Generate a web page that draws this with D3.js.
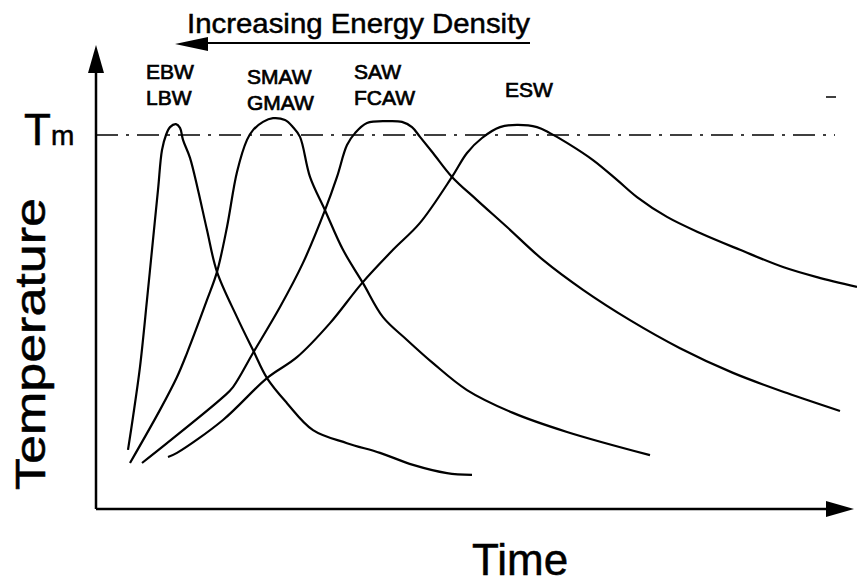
<!DOCTYPE html>
<html>
<head>
<meta charset="utf-8">
<script src="https://cdn.jsdelivr.net/npm/d3@7"></script>
<style>
body { margin: 0; background: #fff; }
text { font-family: "Liberation Sans", Arial, sans-serif; fill: #000; stroke: #000; stroke-width: 0.5px; }
</style>
</head>
<body>
<div id="chart"></div>
<script>

WIDTH = 857;
HEIGHT = 583;

// time in arbitrary units, temperature as % of the melting point Tm

var ebw_time = [3.2, 3.7, 4.4, 5.1, 5.6, 6.2, 6.6, 7.0, 7.4, 8.0, 8.4, 8.7, 9.4, 10.2, 11.1, 12.1, 14.1, 15.7, 17.1, 19.1, 21.7, 25.1, 28.4, 31.7, 35.1, 37.6];
var ebw_temp = [15.8, 24.6, 38.0, 55.9, 69.3, 85.3, 96.0, 100.0, 102.1, 102.9, 101.9, 98.7, 93.9, 85.3, 74.6, 63.4, 51.3, 42.5, 35.0, 28.3, 21.1, 17.6, 15.0, 11.8, 9.6, 9.1];

var smaw_time = [3.4, 6.4, 8.1, 9.1, 11.1, 12.1, 13.1, 14.1, 15.1, 15.7, 16.7, 17.7, 18.9, 19.7, 20.4, 21.4, 22.9, 24.7, 26.7, 28.7, 31.1, 33.7, 37.1, 41.7, 47.1, 55.4];
var smaw_temp = [12.3, 26.5, 35.3, 41.7, 55.9, 63.4, 75.4, 90.1, 98.7, 101.3, 103.5, 104.5, 104.0, 102.1, 99.5, 88.8, 79.9, 69.3, 60.4, 51.3, 45.2, 39.0, 31.8, 25.7, 20.6, 14.4];

var saw_time = [4.6, 7.1, 12.7, 13.7, 15.7, 18.4, 20.7, 22.9, 24.1, 25.1, 25.9, 27.1, 29.1, 30.6, 31.6, 32.4, 33.7, 35.6, 38.1, 41.1, 44.7, 48.7, 53.4, 58.4, 63.7, 69.1, 74.4];
var saw_temp = [12.3, 17.6, 29.9, 32.6, 41.7, 54.0, 65.8, 79.9, 88.8, 97.3, 100.5, 103.2, 103.7, 103.5, 102.1, 99.5, 95.2, 88.8, 82.6, 75.4, 66.6, 58.6, 50.5, 43.0, 36.4, 31.0, 26.2];

var esw_time = [7.2, 8.1, 12.7, 17.1, 20.1, 23.4, 26.6, 29.7, 32.4, 35.6, 37.1, 38.6, 40.4, 42.1, 44.1, 45.4, 47.1, 49.7, 52.1, 54.1, 57.1, 60.4, 64.4, 68.7, 72.1, 76.1];
var esw_temp = [13.9, 15.0, 23.8, 35.0, 40.6, 49.7, 60.4, 69.3, 76.5, 88.8, 95.2, 99.2, 102.1, 102.7, 102.1, 100.5, 97.9, 93.3, 88.0, 83.4, 78.1, 73.8, 69.3, 64.7, 62.0, 59.4];

var labels = [["EBW", "LBW"], ["SMAW", "GMAW"], ["SAW", "FCAW"], ["ESW"]];

var TM = 100;


function zip(t, v) {
    return t.map(function (d, i) { return [d, v[i]]; });
}

var series = [zip(ebw_time, ebw_temp), zip(smaw_time, smaw_temp),
              zip(saw_time, saw_temp), zip(esw_time, esw_temp)];


var svg = d3.select("#chart").append("svg")
    .attr("width", WIDTH)
    .attr("height", HEIGHT);

var x = d3.scaleLinear().domain([0, 76]).range([96, 856]);
var y = d3.scaleLinear().domain([0, 100]).range([509, 135]);

var line = d3.line()
    .x(function (d) { return x(d[0]); })
    .y(function (d) { return y(d[1]); })
    .curve(d3.curveCatmullRom.alpha(0.5));

// axes with arrow heads
svg.append("line")
    .attr("x1", x(0)).attr("y1", y(0))
    .attr("x2", x(0)).attr("y2", 70)
    .attr("stroke", "#000").attr("stroke-width", 2.5);
svg.append("path")
    .attr("d", "M" + x(0) + ",45 L" + (x(0) - 8) + ",73 L" + (x(0) + 8) + ",73 Z")
    .attr("fill", "#000");

svg.append("line")
    .attr("x1", x(0)).attr("y1", y(0))
    .attr("x2", 828).attr("y2", y(0))
    .attr("stroke", "#000").attr("stroke-width", 2.5);
svg.append("path")
    .attr("d", "M854," + y(0) + " L826," + (y(0) - 8) + " L826," + (y(0) + 8) + " Z")
    .attr("fill", "#000");

// melting point line
svg.append("line")
    .attr("x1", x(0)).attr("y1", y(TM))
    .attr("x2", x(73.9)).attr("y2", y(TM))
    .attr("stroke", "#000").attr("stroke-width", 1.6)
    .attr("stroke-dasharray", "22,8,3,8");

// stray mark near the top right
svg.append("line")
    .attr("x1", 826).attr("y1", 97).attr("x2", 836).attr("y2", 97)
    .attr("stroke", "#000").attr("stroke-width", 1.5);

// cooling curves
svg.append("g")
    .selectAll("path")
    .data(series)
    .enter()
    .append("path")
    .attr("d", line)
    .attr("fill", "none")
    .attr("stroke", "#000")
    .attr("stroke-width", 2.2)
    .attr("stroke-linejoin", "round");

// process labels
var label_pos = [[5.0, 79], [15.1, 84], [25.8, 79], [40.9, 97]];
labels.forEach(function (l, i) {
    l.forEach(function (s, j) {
        svg.append("text")
            .attr("x", x(label_pos[i][0]))
            .attr("y", label_pos[i][1] + j * 26)
            .attr("font-size", 21)
            .style("stroke-width", "0.7px")
            .text(s);
    });
});

// Tm
var tm = svg.append("text")
    .attr("x", 24)
    .attr("y", y(TM) + 10);
tm.append("tspan").attr("font-size", 44).text("T");
tm.append("tspan").attr("font-size", 28).text("m");

// axis titles
svg.append("text")
    .attr("transform", "translate(45,490) rotate(-90)")
    .attr("font-size", 42)
    .attr("textLength", 292)
    .attr("lengthAdjust", "spacingAndGlyphs")
    .text("Temperature");

svg.append("text")
    .attr("x", 472)
    .attr("y", 575)
    .attr("font-size", 44)
    .text("Time");

// energy density arrow
svg.append("text")
    .attr("x", 187)
    .attr("y", 33)
    .attr("font-size", 28)
    .attr("textLength", 343)
    .attr("lengthAdjust", "spacingAndGlyphs")
    .text("Increasing Energy Density");

svg.append("line")
    .attr("x1", 200).attr("y1", 43)
    .attr("x2", 530).attr("y2", 43)
    .attr("stroke", "#000").attr("stroke-width", 1.8);
svg.append("path")
    .attr("d", "M175,44 L208,37 L208,51 Z")
    .attr("fill", "#000");

</script>
</body>
</html>
